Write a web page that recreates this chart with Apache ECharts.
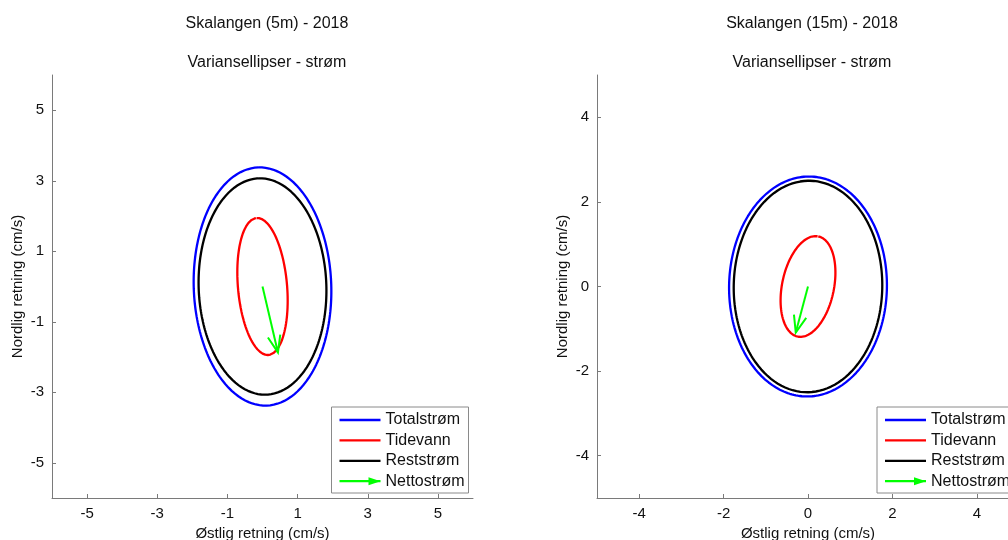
<!DOCTYPE html>
<html>
<head>
<meta charset="utf-8">
<script src="https://cdn.jsdelivr.net/npm/echarts@6/dist/echarts.min.js"></script>
<style>html,body{margin:0;padding:0;background:#fff}#c{width:1008px;height:540px}</style>
</head>
<body>
<div id="c"></div>
<script>
// ---- data ----
const seriesNames = ['Totalstrøm', 'Tidevann', 'Reststrøm', 'Nettostrøm'];
const seriesColors = ['#0000ff', '#ff0000', '#000000', '#00ff00'];
// Skalangen 5m: variance ellipses [Totalstrøm, Tidevann, Reststrøm]
const m5_semiMajor = [3.38, 1.95, 3.07];
const m5_semiMinor = [1.96, 0.70, 1.82];
const m5_angleDeg  = [-2, -5, -2];   // major axis, degrees clockwise from north
const m5_arrow = [0, 0, 0.44, -1.87]; // Nettostrøm x0,y0,x1,y1
// Skalangen 15m
const m15_semiMajor = [2.60, 1.21, 2.50];
const m15_semiMinor = [1.87, 0.615, 1.76];
const m15_angleDeg  = [1, 11.6, 1];
const m15_arrow = [0, 0, -0.29, -1.09];
// tick labels
const m5_ticks = [-5, -3, -1, 1, 3, 5];
const m15_ticks = [-4, -2, 0, 2, 4];

function ellipsePts(a, b, deg) {
  const th = deg * Math.PI / 180, pts = [];
  const ux = Math.sin(th), uy = Math.cos(th), vx = Math.cos(th), vy = -Math.sin(th);
  for (let i = 0; i <= 240; i++) {
    const t = i / 240 * 2 * Math.PI;
    pts.push([a * Math.cos(t) * ux + b * Math.sin(t) * vx, a * Math.cos(t) * uy + b * Math.sin(t) * vy]);
  }
  return pts;
}

const FONT = 'Liberation Sans, Arial, sans-serif';
const chart = echarts.init(document.getElementById('c'), null, {renderer: 'canvas'});

function axisCommon(ticks, min, max) {
  return {
    type: 'value', min: min, max: max,
    axisLine: {show: true, onZero: false, lineStyle: {color: '#7a7a7a', width: 1}},
    axisTick: {show: true, inside: true, length: 4, customValues: ticks, lineStyle: {color: '#7a7a7a'}},
    axisLabel: {customValues: ticks, color: '#111', fontSize: 15, fontFamily: FONT},
    splitLine: {show: false},
    nameLocation: 'middle',
    nameTextStyle: {color: '#111', fontSize: 15, fontFamily: FONT}
  };
}

const series = [];
function addPanel(idx, major, minor, ang, arrow) {
  for (let k = 0; k < 3; k++) {
    series.push({
      type: 'line', name: seriesNames[k], xAxisIndex: idx, yAxisIndex: idx,
      data: ellipsePts(major[k], minor[k], ang[k]), showSymbol: false, symbol: 'none',
      lineStyle: {color: seriesColors[k], width: 2.3}, silent: true, z: 3
    });
  }
  series.push({
    type: 'custom', name: seriesNames[3], xAxisIndex: idx, yAxisIndex: idx,
    data: [arrow], silent: true, z: 5,
    renderItem: function (params, api) {
      const p0 = api.coord([api.value(0), api.value(1)]);
      const p1 = api.coord([api.value(2), api.value(3)]);
      const ang = Math.atan2(p1[1] - p0[1], p1[0] - p0[0]);
      const L = 18, w = 0.36;
      const b1 = [p1[0] - L * Math.cos(ang - w), p1[1] - L * Math.sin(ang - w)];
      const b2 = [p1[0] - L * Math.cos(ang + w), p1[1] - L * Math.sin(ang + w)];
      return {type: 'group', children: [
        {type: 'line', shape: {x1: p0[0], y1: p0[1], x2: p1[0], y2: p1[1]}, style: {stroke: '#00ff00', lineWidth: 2}},
        {type: 'polyline', shape: {points: [b1, p1, b2]}, style: {stroke: '#00ff00', lineWidth: 2, fill: null}}
      ]};
    }
  });
}
addPanel(0, m5_semiMajor, m5_semiMinor, m5_angleDeg, m5_arrow);
addPanel(1, m15_semiMajor, m15_semiMinor, m15_angleDeg, m15_arrow);

function legend(x, y) {
  const els = [{type: 'rect', shape: {x: x, y: y, width: 137, height: 86}, style: {fill: '#fff', stroke: '#8a8a8a', lineWidth: 1}, z: 10}];
  for (let k = 0; k < 4; k++) {
    const cy = y + 13 + k * 20.4;
    els.push({type: 'line', shape: {x1: x + 8, y1: cy, x2: x + 49, y2: cy}, style: {stroke: seriesColors[k], lineWidth: 2.3}, z: 11});
    if (k === 3) {
      els.push({type: 'polygon', shape: {points: [[x + 49, cy], [x + 37, cy - 4], [x + 37, cy + 4]]}, style: {fill: seriesColors[k]}, z: 11});
    }
    els.push({type: 'text', x: x + 54, y: cy, style: {text: seriesNames[k], fill: '#111', font: '16px ' + FONT, verticalAlign: 'middle', align: 'left'}, z: 11});
  }
  return els;
}

const titleStyle = {color: '#111', fontSize: 16, fontWeight: 'normal', fontFamily: FONT};
chart.setOption({
  animation: false,
  backgroundColor: '#fff',
  title: [
    {text: 'Skalangen (5m) - 2018', left: 262, top: 11, textAlign: 'center', textStyle: titleStyle},
    {text: 'Variansellipser - strøm', left: 262, top: 50, textAlign: 'center', textStyle: titleStyle},
    {text: 'Skalangen (15m) - 2018', left: 807, top: 11, textAlign: 'center', textStyle: titleStyle},
    {text: 'Variansellipser - strøm', left: 807, top: 50, textAlign: 'center', textStyle: titleStyle}
  ],
  grid: [
    {left: 52, top: 75, width: 421, height: 423, containLabel: false, outerBoundsMode: 'none'},
    {left: 597, top: 75, width: 422, height: 423, containLabel: false, outerBoundsMode: 'none'}
  ],
  xAxis: [
    Object.assign(axisCommon(m5_ticks, -6, 6), {gridIndex: 0, name: 'Østlig retning (cm/s)', nameGap: 22}),
    Object.assign(axisCommon(m15_ticks, -5, 5), {gridIndex: 1, name: 'Østlig retning (cm/s)', nameGap: 22})
  ],
  yAxis: [
    Object.assign(axisCommon(m5_ticks, -6, 6), {gridIndex: 0, name: 'Nordlig retning (cm/s)', nameGap: 27}),
    Object.assign(axisCommon(m15_ticks, -5, 5), {gridIndex: 1, name: 'Nordlig retning (cm/s)', nameGap: 27})
  ],
  series: series,
  graphic: legend(331.5, 407).concat(legend(877, 407))
});
</script>
</body>
</html>
